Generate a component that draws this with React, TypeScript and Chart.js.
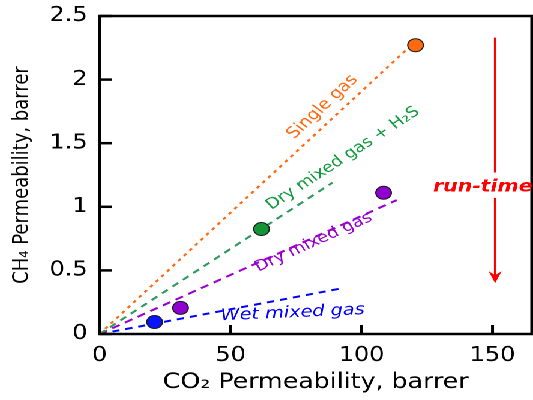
import React, { useEffect, useRef } from 'react';
import { Chart, registerables } from 'chart.js';

Chart.register(...registerables);

// ---- data ----
const xTicks = [0, 50, 100, 150];
const yTicks = [0, 0.5, 1, 1.5, 2, 2.5];
const X_MAX = 165;
const Y_MAX = 2.5;

const xTitle = 'CO₂ Permeability, barrer';
const yTitle = 'CH₄ Permeability, barrer';

const pointX = [120.6, 61.8, 108.4, 30.9, 21.0];
const pointY = [2.27, 0.825, 1.11, 0.205, 0.094];
const pointColors = ['#FF6A0E', '#139436', '#8E00CF', '#8E00CF', '#0A14FF'];

const lineNames = ['Single gas', 'Dry mixed gas + H₂S', 'Dry mixed gas', 'Wet mixed gas'];
const lineEndX = [122.1, 88.9, 113.4, 92.7];
const lineEndY = [2.33, 1.19, 1.053, 0.36];
const labelX = [85.1, 92.9, 81.7, 73.7];
const labelY = [1.785, 1.38, 0.72, 0.165];

const arrowLabel = 'run-time';
const arrowX = 151;
const arrowTopY = 2.33;
const arrowTipY = 0.40;
const arrowGapTopY = 1.27;
const arrowGapBottomY = 1.07;
const arrowLabelX = 146.3;
const arrowLabelY = 1.156;

// ---- styles ----
const W = 444;
const H = 400;
const STRETCH = 533 / W;
const FONT = '"DejaVu Sans", Verdana, sans-serif';
const lineColors = ['#FF6A13', '#2E9960', '#9B00D0', '#0000FF'];
const labelColors = ['#FF6A13', '#129A3E', '#9900CC', '#0000FF'];
const lineDashes = [[3, 4], [6, 5], [7, 5], [6, 5]];
const labelFonts = [
  `15.5px ${FONT}`,
  `15px ${FONT}`,
  `15px ${FONT}`,
  `italic 16px ${FONT}`,
];
const fixedAngles: (number | null)[] = [null, null, null, -3];

const decorPlugin = {
  id: 'decor',
  afterDatasetsDraw(chart: any) {
    const { ctx, chartArea: a, scales } = chart;
    const x = scales.x;
    const y = scales.y;
    ctx.save();

    // box
    ctx.strokeStyle = '#000';
    ctx.lineWidth = 2.5;
    ctx.strokeRect(a.left, a.top, a.right - a.left, a.bottom - a.top);

    // inward ticks
    xTicks.forEach((v) => {
      const px = x.getPixelForValue(v);
      ctx.beginPath();
      ctx.moveTo(px, a.bottom);
      ctx.lineTo(px, a.bottom - 9);
      ctx.stroke();
    });
    yTicks.forEach((v) => {
      const py = y.getPixelForValue(v);
      ctx.beginPath();
      ctx.moveTo(a.left, py);
      ctx.lineTo(a.left + 10, py);
      ctx.stroke();
    });

    // line labels
    lineNames.forEach((name, i) => {
      const x0 = x.getPixelForValue(0);
      const y0 = y.getPixelForValue(0);
      const x1 = x.getPixelForValue(lineEndX[i]);
      const y1 = y.getPixelForValue(lineEndY[i]);
      const fa = fixedAngles[i];
      const ang = fa !== null ? (fa * Math.PI) / 180 : Math.atan2(y1 - y0, x1 - x0);
      ctx.save();
      ctx.translate(x.getPixelForValue(labelX[i]), y.getPixelForValue(labelY[i]));
      ctx.rotate(ang);
      ctx.font = labelFonts[i];
      ctx.fillStyle = labelColors[i];
      ctx.textAlign = 'center';
      ctx.textBaseline = 'middle';
      ctx.fillText(name, 0, 0);
      ctx.restore();
    });

    // run-time arrow
    const ax = x.getPixelForValue(arrowX);
    const top = y.getPixelForValue(arrowTopY);
    const tip = y.getPixelForValue(arrowTipY);
    const g1 = y.getPixelForValue(arrowGapTopY);
    const g2 = y.getPixelForValue(arrowGapBottomY);
    ctx.strokeStyle = '#FF0000';
    ctx.fillStyle = '#FF0000';
    ctx.lineWidth = 2;
    ctx.beginPath();
    ctx.moveTo(ax, top);
    ctx.lineTo(ax, g1);
    ctx.moveTo(ax, g2);
    ctx.lineTo(ax, tip - 6);
    ctx.stroke();
    ctx.beginPath();
    ctx.moveTo(ax, tip);
    ctx.lineTo(ax - 5.5, tip - 12);
    ctx.lineTo(ax, tip - 8);
    ctx.lineTo(ax + 5.5, tip - 12);
    ctx.closePath();
    ctx.fill();

    ctx.font = `italic bold 17px ${FONT}`;
    ctx.textAlign = 'center';
    ctx.textBaseline = 'middle';
    ctx.fillText(arrowLabel, x.getPixelForValue(arrowLabelX), y.getPixelForValue(arrowLabelY));

    ctx.restore();
  },
};

export default function App() {
  const ref = useRef<HTMLCanvasElement>(null);

  useEffect(() => {
    if (!ref.current) return;
    const pointData = pointX.map((v, i) => ({ x: v, y: pointY[i] }));
    const lineSets = lineNames.map((name, i) => ({
      label: name,
      data: [
        { x: 0, y: 0 },
        { x: lineEndX[i], y: lineEndY[i] },
      ],
      showLine: true,
      borderColor: lineColors[i],
      borderWidth: 2,
      borderDash: lineDashes[i],
      pointRadius: 0,
      fill: false,
    }));

    const chart = new Chart(ref.current, {
      type: 'scatter',
      data: {
        datasets: [
          {
            label: 'points',
            data: pointData,
            backgroundColor: pointColors,
            borderColor: '#1a1a1a',
            borderWidth: 1,
            pointRadius: 6.5,
          } as any,
          ...(lineSets as any[]),
        ],
      },
      options: {
        animation: false,
        responsive: false,
        devicePixelRatio: 2,
        layout: { autoPadding: false, padding: { top: 16, right: 1, left: 0, bottom: 0 } },
        plugins: {
          legend: { display: false },
          tooltip: { enabled: false },
        },
        scales: {
          x: {
            type: 'linear',
            min: 0,
            max: X_MAX,
            afterBuildTicks: (s: any) => {
              s.ticks = xTicks.map((v) => ({ value: v }));
            },
            afterFit: (s: any) => {
              s.height = 66;
              s.paddingLeft = 0;
              s.paddingRight = 0;
            },
            grid: { display: false, drawTicks: false },
            border: { display: false },
            ticks: {
              color: '#000',
              font: { family: FONT, size: 20 },
              padding: 10,
              maxRotation: 0,
              callback: (v: any) => String(v),
            },
            title: {
              display: true,
              text: xTitle,
              color: '#000',
              font: { family: FONT, size: 21 },
              padding: { top: 0, bottom: 5 },
            },
          },
          y: {
            type: 'linear',
            min: 0,
            max: Y_MAX,
            afterBuildTicks: (s: any) => {
              s.ticks = yTicks.map((v) => ({ value: v }));
            },
            afterFit: (s: any) => {
              s.width = 83;
              s.paddingTop = 0;
              s.paddingBottom = 0;
            },
            grid: { display: false, drawTicks: false },
            border: { display: false },
            ticks: {
              color: '#000',
              font: { family: FONT, size: 20 },
              padding: 10,
              callback: (v: any) => String(v),
            },
            title: {
              display: true,
              text: yTitle,
              color: '#000',
              font: { family: FONT, size: 18 },
              padding: { top: 7.5, bottom: 0 },
            },
          },
        },
      },
      plugins: [decorPlugin],
    });
    return () => chart.destroy();
  }, []);

  return (
    <div
      style={{
        position: 'absolute',
        left: 0,
        top: 0,
        width: W,
        height: H,
        transform: `scaleX(${STRETCH})`,
        transformOrigin: '0 0',
        background: '#fff',
      }}
    >
      <canvas ref={ref} width={W} height={H} style={{ display: 'block', width: W, height: H }} />
    </div>
  );
}
